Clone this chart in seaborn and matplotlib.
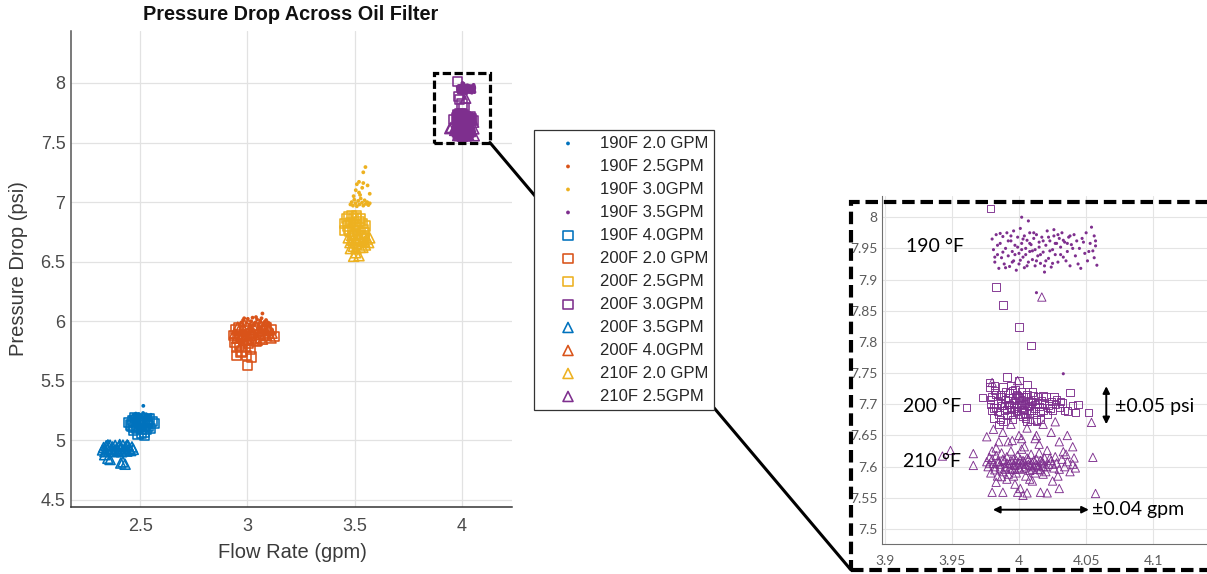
import numpy as np
import pandas as pd
import matplotlib
matplotlib.use("Agg")
import matplotlib.pyplot as plt
import seaborn as sns
from matplotlib.patches import Rectangle, ConnectionPatch
from matplotlib.ticker import FuncFormatter

# ---------------------------------------------------------------- data
# 2.5 gpm nominal (blue)
b_dot_x = [2.455, 2.462, 2.468, 2.474, 2.480, 2.486, 2.490, 2.495, 2.500, 2.505,
           2.510, 2.514, 2.519, 2.523, 2.528, 2.532, 2.537, 2.542, 2.546, 2.550,
           2.471, 2.497, 2.525, 2.482, 2.515]
b_dot_y = [5.200, 5.180, 5.215, 5.190, 5.225, 5.175, 5.205, 5.220, 5.185, 5.210,
           5.195, 5.230, 5.180, 5.205, 5.220, 5.190, 5.210, 5.175, 5.200, 5.215,
           5.170, 5.165, 5.170, 5.200, 5.290]
b_sq_x = [2.445, 2.565, 2.490, 2.520, 2.505, 2.455, 2.555,
          2.465, 2.470, 2.475, 2.480, 2.485, 2.490, 2.495, 2.500, 2.505,
          2.510, 2.515, 2.520, 2.525, 2.530, 2.535, 2.540, 2.545, 2.548,
          2.470, 2.520, 2.535, 2.462, 2.500]
b_sq_y = [5.150, 5.140, 5.050, 5.040, 5.060, 5.130, 5.160,
          5.170, 5.110, 5.190, 5.140, 5.100, 5.160, 5.120, 5.180, 5.090,
          5.150, 5.110, 5.170, 5.130, 5.090, 5.160, 5.120, 5.180, 5.100,
          5.080, 5.070, 5.140, 5.120, 5.140]
b_tri_x = [2.325, 2.330, 2.336, 2.342, 2.348, 2.354, 2.360, 2.366, 2.372, 2.378,
           2.384, 2.390, 2.396, 2.402, 2.408, 2.414, 2.420, 2.426, 2.432, 2.438,
           2.444, 2.450, 2.456, 2.462, 2.468, 2.350, 2.405, 2.440,
           2.350, 2.360, 2.410, 2.430, 2.420, 2.335]
b_tri_y = [4.920, 4.940, 4.905, 4.955, 4.930, 4.910, 4.960, 4.925, 4.945, 4.905,
           4.958, 4.930, 4.915, 4.950, 4.935, 4.905, 4.960, 4.920, 4.945, 4.910,
           4.955, 4.930, 4.915, 4.945, 4.925, 4.962, 4.965, 4.962,
           4.850, 4.840, 4.810, 4.800, 4.820, 4.880]

# 3.0 gpm nominal (orange)
o_dot_x = [2.965, 2.972, 2.980, 2.988, 2.995, 3.002, 3.010, 3.017, 3.024, 3.031,
           3.038, 3.045, 3.052, 3.059, 3.066, 3.073, 3.080, 3.087, 3.094, 3.100,
           3.070, 2.985, 3.040, 3.012, 3.062]
o_dot_y = [5.970, 5.990, 6.010, 5.960, 5.985, 6.020, 5.975, 6.000, 6.030, 5.965,
           5.990, 6.015, 5.980, 6.005, 6.025, 5.970, 5.995, 6.010, 5.960, 5.985,
           6.065, 6.025, 6.035, 5.955, 5.950]
o_sq_x = [2.935, 2.940, 2.945, 2.950, 2.955, 2.960, 2.965, 2.970, 2.975, 2.980,
          2.985, 2.990, 2.995, 3.000, 3.005, 3.010, 3.015, 3.020, 3.030, 3.040,
          3.050, 3.060, 3.070, 3.080, 3.090, 3.100, 3.110, 3.125,
          2.995, 3.020, 3.000, 2.950, 2.970]
o_sq_y = [5.880, 5.820, 5.930, 5.780, 5.860, 5.950, 5.800, 5.890, 5.750, 5.840,
          5.920, 5.780, 5.870, 5.960, 5.810, 5.900, 5.760, 5.850, 5.930, 5.830,
          5.890, 5.860, 5.920, 5.880, 5.950, 5.900, 5.930, 5.870,
          5.715, 5.700, 5.630, 5.710, 5.740]
o_tri_x = [2.940, 2.950, 2.960, 2.970, 2.980, 2.990, 3.000, 3.010, 3.020, 3.030,
           3.040, 3.050, 3.060, 3.070, 3.080, 3.090, 3.100, 3.110, 3.115, 3.025,
           2.955, 3.065, 2.985, 3.045, 3.095]
o_tri_y = [5.900, 5.860, 5.920, 5.870, 5.940, 5.890, 5.850, 5.930, 5.880, 5.950,
           5.860, 5.920, 5.890, 5.850, 5.940, 5.880, 5.920, 5.860, 5.900, 5.910,
           5.950, 5.960, 5.840, 5.840, 5.960]

# 3.5 gpm nominal (yellow)
y_dot_x = [3.480, 3.486, 3.492, 3.498, 3.504, 3.510, 3.516, 3.522, 3.528, 3.534,
           3.540, 3.546, 3.552, 3.558, 3.564, 3.570, 3.495, 3.525,
           3.550, 3.540, 3.540, 3.520, 3.560, 3.520, 3.570, 3.505, 3.535, 3.510]
y_dot_y = [6.980, 7.000, 6.970, 7.020, 6.990, 6.965, 7.010, 6.980, 7.030, 6.995,
           6.970, 7.015, 6.985, 7.000, 6.975, 6.990, 7.050, 7.060,
           7.294, 7.250, 7.160, 7.170, 7.140, 7.080, 7.070, 7.100, 7.120, 7.150]
y_sq_x = [3.460, 3.465, 3.470, 3.475, 3.480, 3.485, 3.490, 3.495, 3.500, 3.505,
          3.510, 3.515, 3.520, 3.525, 3.530, 3.535, 3.540, 3.545, 3.550, 3.470,
          3.488, 3.508, 3.528, 3.455, 3.545, 3.455]
y_sq_y = [6.860, 6.800, 6.880, 6.750, 6.830, 6.890, 6.780, 6.860, 6.730, 6.810,
          6.870, 6.760, 6.840, 6.790, 6.720, 6.820, 6.770, 6.740, 6.800, 6.770,
          6.720, 6.890, 6.860, 6.820, 6.700, 6.760]
y_tri_x = [3.470, 3.478, 3.486, 3.494, 3.502, 3.510, 3.518, 3.526, 3.534, 3.542,
           3.550, 3.558, 3.565, 3.490, 3.522, 3.546, 3.505, 3.538, 3.570, 3.480,
           3.495, 3.520, 3.505]
y_tri_y = [6.700, 6.660, 6.720, 6.630, 6.690, 6.650, 6.730, 6.620, 6.680, 6.710,
           6.640, 6.690, 6.660, 6.680, 6.700, 6.670, 6.610, 6.620, 6.700, 6.610,
           6.545, 6.550, 6.575]

# 4.0 gpm nominal (purple)
p_dot_x = [3.980, 3.981, 3.982, 3.983, 3.984, 3.985, 3.986, 3.987, 3.988, 3.989,
           3.990, 3.991, 3.992, 3.993, 3.994, 3.995, 3.996, 3.996, 3.997, 3.998,
           3.999, 4.000, 4.000, 4.001, 4.002, 4.003, 4.004, 4.004, 4.005, 4.006,
           4.007, 4.008, 4.008, 4.009, 4.010, 4.011, 4.012, 4.012, 4.013, 4.014,
           4.015, 4.016, 4.017, 4.018, 4.019, 4.020, 4.021, 4.022, 4.023, 4.024,
           4.025, 4.026, 4.027, 4.028, 4.029, 4.030, 4.031, 4.032, 4.033, 4.034,
           4.036, 4.037, 4.038, 4.039, 4.041, 4.042, 4.043, 4.045, 4.046, 4.047,
           4.049, 4.050, 4.051, 4.053, 4.054, 4.055, 4.056, 4.057, 4.057, 4.058,
           3.984, 3.988, 3.992, 3.995, 3.997, 3.999, 4.001, 4.003, 4.005, 4.006,
           4.008, 4.010, 4.011, 4.013, 4.015, 4.016, 4.018, 4.020, 4.022, 4.023,
           4.025, 4.027, 4.029, 4.031, 4.033, 4.035, 4.038, 4.040, 4.044, 4.048,
           3.982, 3.986, 3.990, 3.994, 4.002, 4.019, 4.026, 4.036, 4.052, 4.056,
           4.002, 4.007, 4.013, 4.033]
p_dot_y = [7.965, 7.948, 7.928, 7.972, 7.940, 7.918, 7.958, 7.935, 7.969, 7.925,
           7.950, 7.975, 7.938, 7.921, 7.962, 7.945, 7.978, 7.930, 7.955, 7.915,
           7.968, 7.942, 7.925, 7.982, 7.958, 7.936, 7.970, 7.919, 7.950, 7.963,
           7.928, 7.975, 7.945, 7.956, 7.932, 7.966, 7.922, 7.948, 7.972, 7.938,
           7.960, 7.926, 7.968, 7.944, 7.912, 7.955, 7.978, 7.934, 7.962, 7.920,
           7.948, 7.970, 7.940, 7.958, 7.928, 7.966, 7.952, 7.975, 7.936, 7.960,
           7.945, 7.968, 7.922, 7.956, 7.972, 7.938, 7.962, 7.950, 7.918, 7.966,
           7.942, 7.975, 7.930, 7.958, 7.984, 7.946, 7.970, 7.962, 7.954, 7.923,
           7.955, 7.944, 7.962, 7.928, 7.940, 7.952, 7.931, 7.965, 7.940, 7.922,
           7.958, 7.946, 7.975, 7.930, 7.952, 7.940, 7.962, 7.930, 7.968, 7.946,
           7.926, 7.958, 7.972, 7.940, 7.963, 7.930, 7.970, 7.950, 7.925, 7.960,
           7.936, 7.974, 7.919, 7.970, 7.948, 7.922, 7.980, 7.958, 7.945, 7.935,
           8.000, 7.994, 7.879, 7.749]
p_sq_x = [3.978, 3.978, 3.979, 3.980, 3.980, 3.981, 3.982, 3.983, 3.984, 3.985,
          3.986, 3.987, 3.988, 3.988, 3.989, 3.990, 3.991, 3.991, 3.992, 3.993,
          3.994, 3.995, 3.995, 3.996, 3.997, 3.998, 3.998, 3.999, 4.000, 4.000,
          4.001, 4.002, 4.002, 4.003, 4.004, 4.005, 4.005, 4.006, 4.007, 4.008,
          4.009, 4.010, 4.011, 4.012, 4.013, 4.014, 4.015, 4.016, 4.017, 4.018,
          4.019, 4.020, 4.021, 4.022, 4.024, 4.025, 4.027, 4.028, 4.030, 4.032,
          4.034, 4.036, 4.038, 4.040, 4.042, 4.044, 4.052, 4.013, 4.006, 3.985,
          3.979, 3.981, 3.983, 3.984, 3.986, 3.987, 3.989, 3.990, 3.991, 3.992,
          3.993, 3.994, 3.995, 3.996, 3.997, 3.998, 3.999, 4.000, 4.001, 4.002,
          4.003, 4.004, 4.005, 4.006, 4.007, 4.008, 4.009, 4.010, 4.011, 4.012,
          3.982, 3.986, 3.994, 4.003, 4.014, 4.018, 4.023, 4.026, 4.031, 4.016,
          3.979, 3.983, 3.988, 4.000, 4.009, 3.961, 3.973]
p_sq_y = [7.735, 7.728, 7.700, 7.690, 7.712, 7.678, 7.722, 7.695, 7.706, 7.684,
          7.715, 7.698, 7.672, 7.728, 7.690, 7.708, 7.744, 7.682, 7.700, 7.718,
          7.692, 7.676, 7.710, 7.702, 7.724, 7.688, 7.696, 7.714, 7.700, 7.738,
          7.684, 7.706, 7.720, 7.692, 7.700, 7.678, 7.712, 7.732, 7.696, 7.686,
          7.705, 7.720, 7.690, 7.700, 7.675, 7.712, 7.696, 7.676, 7.706, 7.690,
          7.700, 7.712, 7.684, 7.698, 7.705, 7.690, 7.700, 7.708, 7.695, 7.702,
          7.690, 7.689, 7.719, 7.698, 7.687, 7.700, 7.687, 7.672, 7.672, 7.668,
          7.708, 7.694, 7.716, 7.688, 7.702, 7.712, 7.698, 7.720, 7.692, 7.710,
          7.700, 7.684, 7.722, 7.694, 7.706, 7.716, 7.690, 7.710, 7.700, 7.694,
          7.712, 7.686, 7.702, 7.716, 7.706, 7.698, 7.690, 7.704, 7.714, 7.694,
          7.730, 7.676, 7.730, 7.680, 7.702, 7.714, 7.694, 7.712, 7.704, 7.688,
          8.014, 7.888, 7.859, 7.824, 7.794, 7.695, 7.711]
p_tri_x = [3.943, 3.949, 3.966, 3.966, 4.055, 4.057, 4.054, 4.017, 3.999, 3.980,
           3.980, 3.988, 3.999, 4.006, 4.016, 4.021, 4.010, 4.025, 4.001, 3.997,
           4.003, 3.983, 4.030, 3.991,
           3.981, 3.988, 3.994, 4.000, 4.006, 4.012, 4.018, 4.024, 4.030, 4.036,
           3.985, 3.995, 4.015, 4.040, 4.027, 3.976, 4.009,
           3.977, 3.978, 3.979, 3.980, 3.981, 3.982, 3.983, 3.984, 3.985, 3.986,
           3.987, 3.988, 3.989, 3.990, 3.991, 3.992, 3.993, 3.994, 3.995, 3.996,
           3.997, 3.998, 3.999, 4.000, 4.001, 4.002, 4.003, 4.004, 4.005, 4.006,
           4.007, 4.008, 4.009, 4.010, 4.011, 4.012, 4.013, 4.014, 4.015, 4.016,
           4.017, 4.018, 4.019, 4.020, 4.022, 4.024, 4.026, 4.028, 4.030, 4.032,
           4.034, 4.036, 4.038, 4.040, 4.041, 4.042, 4.029, 4.021, 4.033, 3.976,
           3.978, 3.980, 3.982, 3.984, 3.986, 3.988, 3.990, 3.991, 3.993, 3.994,
           3.996, 3.997, 3.998, 4.000, 4.001, 4.002, 4.004, 4.005, 4.007, 4.008,
           4.010, 4.011, 4.013, 4.014, 4.016, 4.018, 4.020, 4.023, 4.025, 4.027,
           3.983, 3.992, 4.004, 4.013, 3.996, 4.008, 4.018, 3.987, 4.035, 4.002]
p_tri_y = [7.617, 7.626, 7.621, 7.602, 7.615, 7.557, 7.671, 7.872, 7.738, 7.735,
           7.559, 7.559, 7.559, 7.558, 7.559, 7.558, 7.577, 7.577, 7.565, 7.572,
           7.554, 7.575, 7.565, 7.580,
           7.660, 7.655, 7.668, 7.650, 7.662, 7.645, 7.668, 7.655, 7.640, 7.650,
           7.640, 7.642, 7.636, 7.632, 7.672, 7.648, 7.676,
           7.600, 7.615, 7.590, 7.625, 7.605, 7.595, 7.618, 7.585, 7.608, 7.598,
           7.622, 7.592, 7.610, 7.600, 7.616, 7.588, 7.605, 7.625, 7.596, 7.612,
           7.602, 7.590, 7.618, 7.606, 7.596, 7.628, 7.610, 7.598, 7.585, 7.614,
           7.604, 7.594, 7.620, 7.606, 7.600, 7.590, 7.612, 7.602, 7.622, 7.595,
           7.608, 7.600, 7.614, 7.592, 7.604, 7.610, 7.598, 7.606, 7.596, 7.612,
           7.600, 7.608, 7.592, 7.604, 7.614, 7.598, 7.585, 7.626, 7.624, 7.608,
           7.605, 7.612, 7.600, 7.608, 7.604, 7.612, 7.596, 7.606, 7.598, 7.610,
           7.604, 7.596, 7.610, 7.598, 7.612, 7.604, 7.608, 7.600, 7.612, 7.602,
           7.596, 7.610, 7.604, 7.596, 7.610, 7.606, 7.600, 7.614, 7.604, 7.616,
           7.630, 7.640, 7.632, 7.650, 7.585, 7.580, 7.588, 7.584, 7.620, 7.645]

series_labels = ["190F 2.0 GPM", "190F 2.5GPM", "190F 3.0GPM", "190F 3.5GPM",
                 "190F 4.0GPM", "200F 2.0 GPM", "200F 2.5GPM", "200F 3.0GPM",
                 "200F 3.5GPM", "200F 4.0GPM", "210F 2.0 GPM", "210F 2.5GPM"]
series_x = [b_dot_x, o_dot_x, y_dot_x, p_dot_x,
            b_sq_x, o_sq_x, y_sq_x, p_sq_x,
            b_tri_x, o_tri_x, y_tri_x, p_tri_x]
series_y = [b_dot_y, o_dot_y, y_dot_y, p_dot_y,
            b_sq_y, o_sq_y, y_sq_y, p_sq_y,
            b_tri_y, o_tri_y, y_tri_y, p_tri_y]

main_xticks = [2.5, 3.0, 3.5, 4.0]
main_yticks = [4.5, 5.0, 5.5, 6.0, 6.5, 7.0, 7.5, 8.0]
zoom_xticks = [3.9, 3.95, 4.0, 4.05, 4.1]
zoom_yticks = [7.5, 7.55, 7.6, 7.65, 7.7, 7.75, 7.8, 7.85, 7.9, 7.95, 8.0]

# ---------------------------------------------------------------- style
palette = ["#0072BD", "#D95319", "#EDB120", "#7E2F8E"]
series_colors = palette * 3
series_markers = ["o"] * 4 + ["s"] * 4 + ["^"] * 4

frames = []
for lab, xs, ys in zip(series_labels, series_x, series_y):
    frames.append(pd.DataFrame({"flow": xs, "dp": ys, "series": lab}))
df = pd.concat(frames, ignore_index=True)

sns.set_style("white")
plt.rcParams["font.family"] = ["Liberation Sans", "DejaVu Sans"]

W, H = 1207, 574
fig = plt.figure(figsize=(W / 100, H / 100), dpi=100)


def fx(px):
    return px / W


def fy(py):
    return 1 - py / H


ax = fig.add_axes([fx(71), fy(507), fx(512) - fx(71), fy(31) - fy(507)])
axz = fig.add_axes([fx(882), fy(544), fx(1207) - fx(882), fy(196) - fy(544)])

sizes = {"main": {"o": 7.5, "s": 44, "^": 52, "lw": 1.15},
         "zoom": {"o": 5.0, "s": 28, "^": 36, "lw": 0.65}}


def draw(target, key):
    sz = sizes[key]
    for lab, col, mk in zip(series_labels, series_colors, series_markers):
        sub = df[df["series"] == lab]
        if mk == "o":
            sns.scatterplot(data=sub, x="flow", y="dp", ax=target, marker="o",
                            s=sz["o"], color=col, edgecolor="none", linewidth=0,
                            legend=False, label=lab, zorder=3)
        else:
            sns.scatterplot(data=sub, x="flow", y="dp", ax=target, marker=mk,
                            s=sz[mk], color=col, facecolors="none", edgecolor=col,
                            linewidth=sz["lw"], legend=False, label=lab, zorder=3)


draw(ax, "main")
draw(axz, "zoom")

fmt = FuncFormatter(lambda v, p: f"{v:g}")

# main axes
ax.set_xlim(2.178, 4.233)
ax.set_ylim(4.441, 8.436)
ax.set_xticks(main_xticks)
ax.set_yticks(main_yticks)
ax.xaxis.set_major_formatter(fmt)
ax.yaxis.set_major_formatter(fmt)
ax.set_xlabel("")
ax.set_ylabel("")
ax.grid(True, color="#e2e2e2", lw=0.9)
ax.set_axisbelow(True)
for s in ["top", "right"]:
    ax.spines[s].set_visible(False)
ax.spines["left"].set_color("#555555")
ax.spines["bottom"].set_color("#333333")
ax.spines["left"].set_linewidth(1.1)
ax.spines["bottom"].set_linewidth(1.1)
ax.tick_params(axis="both", length=0, labelsize=13, labelcolor="#4a4a4a")
ax.tick_params(axis="x", pad=8)
ax.tick_params(axis="y", pad=4)

fig.text(fx(291), fy(15), "Pressure Drop Across Oil Filter", ha="center",
         va="center", fontsize=14.3, fontweight="bold", color="#111111")
fig.text(fx(292), fy(553), "Flow Rate (gpm)", ha="center", va="center",
         fontsize=14.5, color="#3a3a3a")
fig.text(fx(19), fy(269), "Pressure Drop (psi)", ha="center", va="center",
         rotation=90, fontsize=14.5, color="#3a3a3a")

# dashed selection box around the 4 gpm cluster
ax.add_patch(Rectangle((3.87, 7.5), 0.26, 0.585, fill=False, ec="black",
                       lw=2.3, ls=(0, (2.6, 1.1)), clip_on=False, zorder=6))

# zoomed axes
axz.set_xlim(3.898, 4.140)
axz.set_ylim(7.476, 8.034)
axz.set_xticks(zoom_xticks)
axz.set_yticks(zoom_yticks)
axz.xaxis.set_major_formatter(fmt)
axz.yaxis.set_major_formatter(fmt)
axz.set_xlabel("")
axz.set_ylabel("")
axz.grid(True, color="#e4e4e4", lw=0.8)
axz.set_axisbelow(True)
for s in ["top", "right"]:
    axz.spines[s].set_visible(False)
axz.spines["left"].set_color("#6f6f6f")
axz.spines["bottom"].set_color("#6f6f6f")
axz.tick_params(axis="both", length=0, labelsize=10, labelcolor="#5a5a5a")
axz.tick_params(axis="x", pad=8)
axz.tick_params(axis="y", pad=3)
for t in axz.get_xticklabels() + axz.get_yticklabels():
    t.set_fontfamily(["Lato", "DejaVu Sans"])

note_font = dict(fontsize=14, color="black", family=["Lato", "DejaVu Sans"],
                 va="center", ha="left", zorder=8)
axz.text(3.9161, 7.9526, "190 °F", **note_font)
axz.text(3.9134, 7.697, "200 °F", **note_font)
axz.text(3.9134, 7.6075, "210 °F", **note_font)
axz.text(4.0716, 7.697, "±0.05 psi", **note_font)
axz.text(4.054, 7.531, "±0.04 gpm", **note_font)
arrow = dict(arrowstyle="<|-|>", color="black", lw=1.4, mutation_scale=10,
             shrinkA=0, shrinkB=0)
axz.annotate("", xy=(4.065, 7.729), xytext=(4.065, 7.668), arrowprops=arrow)
axz.annotate("", xy=(3.9806, 7.531), xytext=(4.052, 7.531), arrowprops=arrow)

# dashed frame around the zoomed axes
fig.add_artist(Rectangle((fx(851), fy(570)), fx(1220) - fx(851), fy(202) - fy(570),
                         transform=fig.transFigure, fill=False, ec="black",
                         lw=3.0, ls=(0, (3.0, 1.4)), zorder=10))

# leader line from the selection box to the zoomed frame
con = ConnectionPatch(xyA=(4.13, 7.5), coordsA=ax.transData,
                      xyB=(fx(851), fy(570)), coordsB=fig.transFigure,
                      color="black", lw=2.2, zorder=3)
fig.add_artist(con)

# legend
handles, labels = ax.get_legend_handles_labels()
leg = fig.legend(handles, labels, loc="upper left",
                 bbox_to_anchor=(fx(534), fy(130)), bbox_transform=fig.transFigure,
                 borderaxespad=0, fontsize=12, frameon=True, fancybox=False,
                 framealpha=1, borderpad=0.35, labelspacing=0.48,
                 handlelength=3.38, handletextpad=0.23, scatterpoints=1)
leg.set_zorder(20)
leg.get_frame().set_edgecolor("#333333")
leg.get_frame().set_linewidth(0.9)
for t in leg.get_texts():
    t.set_color("#262626")

fig.savefig("out.png", dpi=100)
